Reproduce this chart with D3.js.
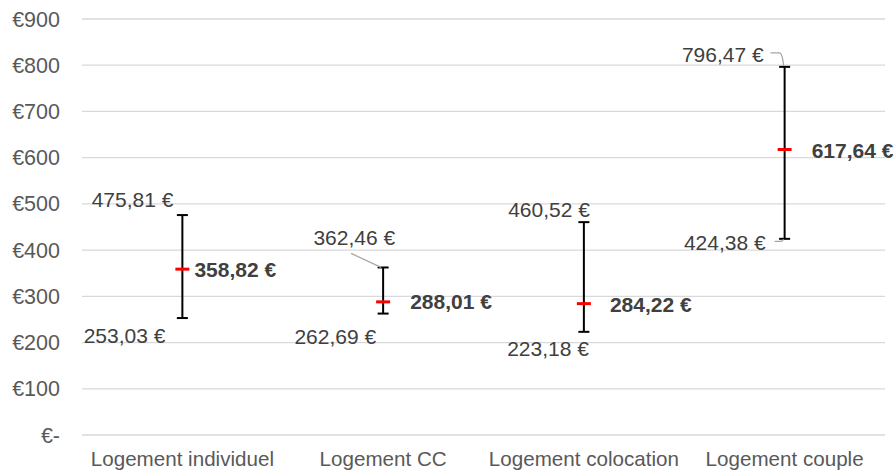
<!DOCTYPE html>
<html>
<head>
<meta charset="utf-8">
<script src="https://cdn.jsdelivr.net/npm/d3@7"></script>
<style>
  body { margin: 0; background: #fff; }
  text { font-family: "Liberation Sans", Arial, sans-serif; }
</style>
</head>
<body>
<script>
// data
categories = ["Logement individuel", "Logement CC", "Logement colocation", "Logement couple"]
minValues = [253.03, 262.69, 223.18, 424.38]
medianValues = [358.82, 288.01, 284.22, 617.64]
maxValues = [475.81, 362.46, 460.52, 796.47]
yTicks = [0, 100, 200, 300, 400, 500, 600, 700, 800, 900]

// label placement (labels were moved by hand in the original), offsets from bar centre / value
maxLabelPos = [[-9, -15], [12, -30], [6, -12], [-21, -12]]
minLabelPos = [[-17, 18], [-7, 23], [5, 17], [-19, 4]]
medLabelPos = [[12, 1], [27, 0], [26, 1], [27, 1]]

var width = 895, height = 470
var margin = {top: 19, right: 10, bottom: 35, left: 82}

var svg = d3.select("body").append("svg").attr("width", width).attr("height", height)

var x = d3.scaleBand().domain(categories).range([margin.left, 885]).padding(0)
var y = d3.scaleLinear().domain([0, 900]).range([height - margin.bottom, margin.top])

var fr = d3.formatLocale({decimal: ",", thousands: " ", grouping: [3], currency: ["", " €"]})
var euro = fr.format(",.2f")
function lab(v) { return euro(v) + " €" }

// gridlines
svg.append("g").selectAll("line").data(yTicks).enter().append("line")
    .attr("x1", margin.left).attr("x2", 885)
    .attr("y1", d => y(d)).attr("y2", d => y(d))
    .attr("stroke", "#d9d9d9").attr("stroke-width", 1.3)

// y axis labels
svg.append("g").selectAll("text").data(yTicks).enter().append("text")
    .attr("x", 60).attr("y", d => y(d)).attr("dy", "0.35em")
    .attr("text-anchor", "end").attr("fill", "#595959").style("font-size", "21.5px")
    .text(d => d == 0 ? "€-" : "€" + d)

// category labels
svg.append("g").selectAll("text").data(categories).enter().append("text")
    .attr("x", d => x(d) + x.bandwidth() / 2).attr("y", 466)
    .attr("text-anchor", "middle").attr("fill", "#595959").style("font-size", "20.6px")
    .text(d => d)

var cx = i => x(categories[i]) + x.bandwidth() / 2

var bars = svg.append("g")
categories.forEach(function(c, i) {
    bars.append("line").attr("x1", cx(i)).attr("x2", cx(i))
        .attr("y1", y(minValues[i])).attr("y2", y(maxValues[i]))
        .attr("stroke", "#000").attr("stroke-width", 2)
    ;[minValues[i], maxValues[i]].forEach(function(v) {
        bars.append("line").attr("x1", cx(i) - 5.5).attr("x2", cx(i) + 5.5)
            .attr("y1", y(v)).attr("y2", y(v))
            .attr("stroke", "#000").attr("stroke-width", 2)
    })
    bars.append("line").attr("x1", cx(i) - 7).attr("x2", cx(i) + 7)
        .attr("y1", y(medianValues[i])).attr("y2", y(medianValues[i]))
        .attr("stroke", "#ff0000").attr("stroke-width", 3)
})

// leader lines
var lead = svg.append("g").attr("fill", "none").attr("stroke", "#a6a6a6").attr("stroke-width", 1.3)
lead.append("path").attr("d", "M" + (cx(1) - 32) + "," + (y(maxValues[1]) - 14) + "L" + (cx(1) - 2) + "," + y(maxValues[1]))
lead.append("path").attr("d", "M" + (cx(3) - 14) + "," + (y(maxValues[3]) - 14) + "L" + (cx(3) - 5) + "," + (y(maxValues[3]) - 14) + "Q" + (cx(3) - 2) + "," + (y(maxValues[3]) - 13) + " " + (cx(3) - 1) + "," + (y(maxValues[3]) - 1))
lead.append("path").attr("d", "M" + (cx(3) - 10) + "," + (y(minValues[3]) + 2.5) + "L" + (cx(3) - 3) + "," + (y(minValues[3]) + 2.5) + "L" + (cx(3) - 1) + "," + (y(minValues[3]) + 0.5))

var labels = svg.append("g").style("font-size", "21px").attr("fill", "#404040")
categories.forEach(function(c, i) {
    labels.append("text").attr("x", cx(i) + maxLabelPos[i][0]).attr("y", y(maxValues[i]) + maxLabelPos[i][1])
        .attr("dy", "0.35em").attr("text-anchor", "end").text(lab(maxValues[i]))
    labels.append("text").attr("x", cx(i) + minLabelPos[i][0]).attr("y", y(minValues[i]) + minLabelPos[i][1])
        .attr("dy", "0.35em").attr("text-anchor", "end").text(lab(minValues[i]))
    labels.append("text").attr("x", cx(i) + medLabelPos[i][0]).attr("y", y(medianValues[i]) + medLabelPos[i][1])
        .attr("dy", "0.35em").attr("text-anchor", "start").style("font-weight", "bold").text(lab(medianValues[i]))
})
</script>
</body>
</html>
